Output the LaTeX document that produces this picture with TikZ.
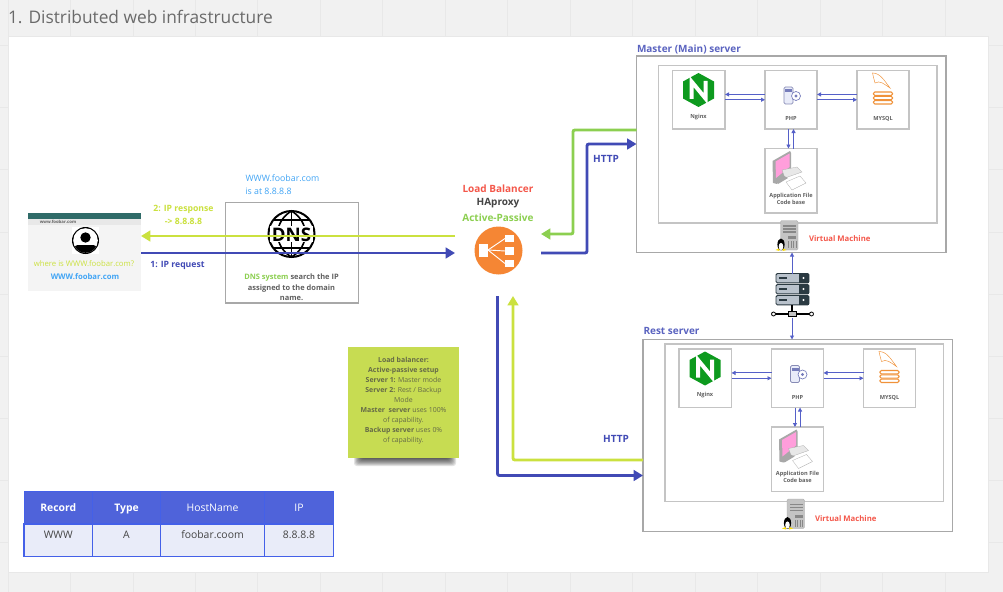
\documentclass[tikz,border=0pt]{standalone}
\usepackage{fontspec}
\setmainfont{Open Sans}
\usetikzlibrary{arrows.meta}

\definecolor{pagegrey}{HTML}{F1F1F1}
\definecolor{gridgrey}{HTML}{E8E8E8}
\definecolor{boxgrey}{HTML}{C4C4C4}
\definecolor{linegrey}{HTML}{A8A8A8}
\definecolor{titlegrey}{HTML}{6A6A6A}
\definecolor{textgrey}{HTML}{444444}
\definecolor{lineblue}{HTML}{414AB5}
\definecolor{thinblue}{HTML}{5560C8}
\definecolor{labelblue}{HTML}{5A63C0}
\definecolor{skyblue}{HTML}{42A5F5}
\definecolor{limegreen}{HTML}{CBE13F}
\definecolor{leafgreen}{HTML}{8CCF50}
\definecolor{notegreen}{HTML}{C7DC52}
\definecolor{alertred}{HTML}{F4574A}
\definecolor{lborange}{HTML}{F58634}
\definecolor{sqlorange}{HTML}{F0923A}
\definecolor{nginxgreen}{HTML}{0D9A1E}
\definecolor{headblue}{HTML}{4F63DA}
\definecolor{cellblue}{HTML}{E9ECF9}
\definecolor{tableline}{HTML}{4460E8}
\definecolor{barteal}{HTML}{2F6B68}
\definecolor{rackfill}{HTML}{B9C2CC}
\definecolor{rackdark}{HTML}{2B3A42}

\tikzset{
  boxsize/.style 2 args={minimum width=#1*0.75pt, minimum height=#2*0.75pt},
  panelbox/.style={draw=linegrey, line width=0.8pt, fill=white},
  partbox/.style={draw=boxgrey, line width=1.1pt, fill=white},
  thinarrow/.style={draw=thinblue, line width=0.7pt, -{Triangle[length=3pt,width=3pt]}},
  bluearrow/.style={draw=lineblue, line width=2.2pt, rounded corners=1.5pt, -{Triangle[length=7pt,width=8pt]}},
  limearrow/.style={draw=limegreen, line width=2.2pt, rounded corners=1.5pt, -{Triangle[length=7pt,width=8pt]}},
  leafarrow/.style={draw=leafgreen, line width=2.2pt, rounded corners=1.5pt, -{Triangle[length=7pt,width=8pt]}},
  tinytext/.style={font=\fontsize{4.2}{5.4}\selectfont\bfseries, text=textgrey!85, align=center},
  boldtext/.style={font=\fontsize{#1}{9.8}\selectfont\bfseries},
  notetext/.style={font=\fontsize{5.2}{7.5}\selectfont, text=textgrey!75!notegreen, align=center},
}

% one set of php, nginx, mysql and files boxes
\newcommand{\serverparts}[3]{
  \begin{scope}[shift={(#2,#3)}]
    \node[partbox, boxsize={278.5}{157.5}] (#1inner) at (797.75,144.25) {};
    \node[partbox, boxsize={52.5}{58.5}] (#1nginx) at (698.75,99.75) {};
    \node[partbox, boxsize={52}{58.5}] (#1php) at (791,99.75) {};
    \node[partbox, boxsize={52}{58.5}] (#1mysql) at (883,99.75) {};
    \node[partbox, boxsize={52}{64.5}] (#1files) at (791,180.75) {};

    % nginx icon
    \path[fill=nginxgreen] (698.5,73) -- (714,81.5) -- (714,98.5) -- (698.5,107) -- (683,98.5) -- (683,81.5) -- cycle;
    \path[draw=white,line width=3pt,line join=miter] (691.5,99) -- (691.5,81.5) -- (705.5,98.5) -- (705.5,81);
    \node[tinytext] (#1nginxtext) at (698.5,117) {Nginx};

    % php icon
    \path[draw=linegrey!60!thinblue,fill=cellblue,line width=0.6pt,rounded corners=1pt] (784,87) rectangle (793,104);
    \path[fill=linegrey!40!thinblue] (785,89) rectangle (792,92);
    \path[draw=linegrey!40!thinblue,fill=white,line width=0.5pt] (796,96) circle (4.5);
    \path[fill=linegrey!40!thinblue] (796,96) circle (1.6);
    \node[tinytext] (#1phptext) at (791,119) {PHP};

    % mysql icon
    \path[draw=sqlorange,line width=0.35pt] (872.5,73) .. controls (880,73) and (884,80) .. (890,88) .. controls (884,84) and (880,80) .. (875,83) .. controls (874,79) and (873,76) .. (872.5,73) -- cycle;
    \foreach \ty in {92,96.3,100.6} {
      \path[draw=sqlorange,line width=0.8pt,rounded corners=1pt] (873.5,\ty) rectangle (892.5,\ty+3.4);
    }
    \node[tinytext] (#1mysqltext) at (883,119) {MYSQL};

    % computer icon
    \path[fill=linegrey] (772.5,161) -- (790,151) -- (791,153) -- (791,169) -- (777,184) -- (773,183) -- cycle;
    \path[fill=pink!70!magenta!80!white] (775.5,161.5) -- (789.5,153.5) -- (789.5,167) -- (776,178) -- cycle;
    \path[fill=gridgrey,draw=linegrey,line width=0.2pt] (782,170) -- (797,167) -- (802,172) -- (785,178) -- cycle;
    \path[fill=white,draw=linegrey,line width=0.2pt] (786,182) -- (800,176) -- (806,183) -- (792,190) -- cycle;
    \path[fill=linegrey] (776,180) -- (784,176) -- (788,178) -- (778,184) -- cycle;
    \node[tinytext] (#1filestext) at (791,198.5) {Application File\\Code base};

    % virtual machine
    \path[fill=boxgrey,draw=linegrey,line width=0.3pt,rounded corners=1pt] (780.5,220.5) rectangle (798,250);
    \foreach \ty in {225,228,231} {
      \path[fill=titlegrey!80] (783,\ty) rectangle (796,\ty+1.6);
    }
    \path[fill=titlegrey!80] (788,236) rectangle (796,239);
    \foreach \tx in {788,790.5,793,795.5} {
      \path[fill=titlegrey!80] (\tx,241) rectangle (\tx+1.3,248);
    }
    \path[fill=black] (781,244.5) ellipse (3.6 and 6);
    \path[fill=white] (781,246.5) ellipse (2.3 and 3.6);
    \path[fill=yellow!80!orange] (775.5,250) -- (779,248.5) -- (779.5,251) -- cycle;
    \path[fill=yellow!80!orange] (786.5,250) -- (783,248.5) -- (782.5,251) -- cycle;

    % links
    \draw[thinarrow] (#1nginx.east) -- (#1php.west);
    \draw[thinarrow] ([yshift=-4pt]#1php.west) -- ([yshift=-4pt]#1nginx.east);
    \draw[thinarrow] (#1php.east) -- (#1mysql.west);
    \draw[thinarrow] ([yshift=-4pt]#1mysql.west) -- ([yshift=-4pt]#1php.east);
    \draw[thinarrow] ([xshift=-1.9pt]#1php.south) -- ([xshift=-1.9pt]#1files.north);
    \draw[thinarrow] ([xshift=1.9pt]#1files.north) -- ([xshift=1.9pt]#1php.south);
  \end{scope}
}

\begin{document}
\begin{tikzpicture}[y=0.75pt, x=0.75pt, yscale=-1, inner sep=0pt, outer sep=0pt]
  \useasboundingbox (0,0) rectangle (1003,592);

  % page and grid
  \path[fill=pagegrey] (0,0) rectangle (1003,592);
  \foreach \gx in {8,70,133,195,257,320,382,445,507,570,632,695,757,820,882,945} {
    \path[draw=gridgrey,line width=0.6pt] (\gx,0) -- (\gx,592);
  }
  \foreach \gy in {45,107,169,232,294,356,418,480,542} {
    \path[draw=gridgrey,line width=0.6pt] (0,\gy) -- (1003,\gy);
  }
  \path[fill=white,draw=gridgrey,line width=0.6pt] (8,36) rectangle (988,572);
  \node[anchor=west, text=titlegrey, font=\fontsize{13}{15}\selectfont] (title) at (8,17) {1. Distributed web infrastructure};

  % browser
  \node[fill=pagegrey!75!white, boxsize={113}{78}] (browser) at (84.5,252) {};
  \path[fill=barteal] (28,213) rectangle (141,219);
  \path[fill=gridgrey] (28,219) rectangle (141,224.5);
  \node[tinytext, font=\fontsize{3.2}{5}\selectfont\bfseries] (browserurl) at (58,221.7) {www.foobar.com};
  \path[fill=white] (72,227) rectangle (99,254);
  \path[fill=black] (85.5,240.5) circle (13.5);
  \path[fill=white] (85.5,240.5) circle (12.3);
  \begin{scope}
    \clip (85.5,240.5) circle (12.3);
    \path[fill=black] (85.5,237.5) circle (5.2);
    \path[fill=black,rounded corners=2pt] (73,256) -- (75,245) -- (96,245) -- (98,256) -- cycle;
  \end{scope}
  \node[font=\fontsize{5.8}{7}\selectfont, text=limegreen] (browserask) at (84,264) {where is WWW.foobar.com?};
  \node[font=\fontsize{5.8}{7}\selectfont\bfseries, text=skyblue] (browserhost) at (85,277) {WWW.foobar.com};

  % dns
  \node[panelbox, boxsize={133}{100.5}] (dnsbox) at (292,252.75) {};
  \node[anchor=west, text=skyblue, font=\fontsize{6.6}{8}\selectfont] (dnsline1) at (245.5,178.5) {WWW.foobar.com};
  \node[anchor=west, text=skyblue, font=\fontsize{6.6}{8}\selectfont] (dnsline2) at (245.5,191.5) {is at 8.8.8.8};
  \path[draw=black,line width=1.5pt] (291.5,234) circle (23);
  \path[draw=black,line width=1.2pt] (291.5,211) .. controls (273,222) and (273,246) .. (291.5,257);
  \path[draw=black,line width=1.2pt] (291.5,211) .. controls (310,222) and (310,246) .. (291.5,257);
  \path[draw=black,line width=1.2pt] (291.5,211) -- (291.5,257);
  \path[draw=black,line width=1.2pt] (273,220) -- (310,220);
  \path[draw=black,line width=1.2pt] (273,248) -- (310,248);
  \path[fill=white] (270,226) rectangle (313,242);
  \node[font=\fontsize{14}{15}\selectfont\bfseries] (dnsword) at (291.5,234.5) {DNS};
  \node[tinytext, font=\fontsize{5.6}{7.9}\selectfont\bfseries] (dnstext) at (291.5,287.5) {{\color{leafgreen}DNS system} search the IP\\assigned to the domain\\name.};

  % load balancer
  \node[boldtext=7.5, text=alertred] (lbline1) at (498,188.5) {Load Balancer};
  \node[boldtext=7.5, text=textgrey] (lbline2) at (498,203) {HAproxy};
  \node[boldtext=7.5, text=leafgreen] (lbline3) at (498,217.5) {Active-Passive};
  \node[circle, fill=lborange, minimum size=48*0.75pt] (lb) at (498.5,250.5) {};
  \path[fill=white] (479,244) rectangle (488,257);
  \path[fill=white] (505,235) rectangle (514,242);
  \path[fill=white] (505,247) rectangle (514,255);
  \path[fill=white] (505,260) rectangle (514,267);
  \path[draw=white,line width=0.7pt] (488,250) -- (505,238.5);
  \path[draw=white,line width=0.7pt] (488,250) -- (505,251);
  \path[draw=white,line width=0.7pt] (488,250) -- (505,263.5);

  % master and rest boxes
  \node[panelbox, boxsize={309.5}{196.5}] (masterbox) at (791.25,154.25) {};
  \node[panelbox, boxsize={309.5}{192}] (restbox) at (797.75,435.5) {};
  \node[boldtext=7.5, text=labelblue, anchor=west] (mastertitle) at (637,49.5) {Master (Main) server};
  \node[boldtext=7.5, text=labelblue, anchor=west] (resttitle) at (643.5,330.5) {Rest server};
  \serverparts{m}{0}{0}
  \serverparts{r}{6.5}{278.5}
  \node[boldtext=5.8, text=alertred, anchor=west] (mvmtext) at (809,239) {Virtual Machine};
  \node[boldtext=5.8, text=alertred, anchor=west] (rvmtext) at (815,519) {Virtual Machine};

  % rack between servers
  \node[boxsize={41}{44}] (rack) at (792,295.5) {};
  \foreach \ry in {273.5,284.5,295.5} {
    \path[fill=rackfill,draw=rackdark,line width=0.7pt,rounded corners=1pt] (776,\ry) rectangle (809,\ry+9.3);
    \path[fill=rackdark] (799,\ry) rectangle (809,\ry+9.3);
    \path[fill=rackdark] (779,\ry+3.5) rectangle (787,\ry+5.5);
    \path[fill=white] (803.5,\ry+4.5) circle (1.2);
  }
  \path[draw=black,line width=1pt] (792,305) -- (792,314);
  \path[draw=black,line width=1.2pt] (773.5,314) -- (811.5,314);
  \path[fill=boxgrey,draw=black,line width=0.5pt] (788,311.5) rectangle (796,316.5);
  \path[fill=white,draw=black,line width=0.6pt] (773.5,314) circle (2);
  \path[fill=white,draw=black,line width=0.6pt] (811.5,314) circle (2);
  \draw[thinarrow] (rack.north) -- (masterbox.south -| rack.north);
  \draw[thinarrow] (rack.south) -- (restbox.north -| rack.south);

  % request and response
  \coordinate (lbleft1) at (455,236);
  \coordinate (lbleft2) at (455,253);
  \draw[limearrow] (lbleft1) -- (browser.east |- lbleft1);
  \draw[bluearrow] (browser.east |- lbleft2) -- (lbleft2);
  \node[boldtext=6.5, text=limegreen, align=center] (resplabel) at (183.5,214.5) {2: IP response\\-> 8.8.8.8};
  \node[boldtext=6.5, text=lineblue] (reqlabel) at (177.5,265) {1: IP request};

  % master links
  \coordinate (lbright1) at (541,234);
  \coordinate (lbright2) at (541,253);
  \draw[leafarrow] (masterbox.west |- 0,130) -- (573,130) -- (573,234) -- (lbright1);
  \draw[bluearrow] (lbright2) -- (587,253) -- (587,144) -- (masterbox.west |- 0,144);
  \node[boldtext=7.5, text=lineblue] (httpmaster) at (606,159) {HTTP};

  % rest links
  \coordinate (lbdown1) at (497.5,296);
  \coordinate (lbdown2) at (513,296);
  \draw[bluearrow] (lbdown1) -- (497.5,475.5) -- (restbox.west |- 0,475.5);
  \draw[limearrow] (restbox.west |- 0,460) -- (513,460) -- (lbdown2);
  \node[boldtext=7.5, text=lineblue] (httprest) at (616,438.5) {HTTP};

  % note
  \foreach \sk in {0,...,8} {
    \path[fill=black,fill opacity=0.11,rounded corners=2pt] (354+\sk,456) rectangle (456-\sk,466-\sk);
  }
  \node[fill=notegreen, boxsize={111}{111}] (note) at (403.5,402.5) {};
  \node[notetext] (notetext) at (403.5,401) {{\bfseries Load balancer:}\\{\bfseries Active-passive setup}\\{\bfseries Server 1:} Master mode\\{\bfseries Server 2:} Rest / Backup\\Mode\\{\bfseries Master~ server} uses 100\%\\of capability.\\{\bfseries Backup server} uses 0\%\\of capability.};

  % dns table
  \foreach \cname/\cx/\cw/\hw/\head/\cell in {a/58.25/68.5/\bfseries/Record/WWW, b/126.5/68/\bfseries/Type/A, c/212.5/104/\mdseries/HostName/foobar.coom, d/299/69/\mdseries/IP/8.8.8.8} {
    \node[draw=tableline, line width=0.7pt, fill=headblue, boxsize={\cw}{32.5}] (\cname head) at (\cx,507.75) {};
    \node[draw=tableline, line width=0.9pt, fill=cellblue, boxsize={\cw}{32.5}] (\cname body) at (\cx,540.25) {};
    \node[anchor=base, text=white, font=\fontsize{7.8}{9}\selectfont\hw] (\cname headtext) at (\cx,511.5) {\head};
    \node[anchor=base, text=textgrey, font=\fontsize{7.8}{9}\selectfont] (\cname bodytext) at (\cx,538) {\cell};
  }
\end{tikzpicture}
\end{document}
